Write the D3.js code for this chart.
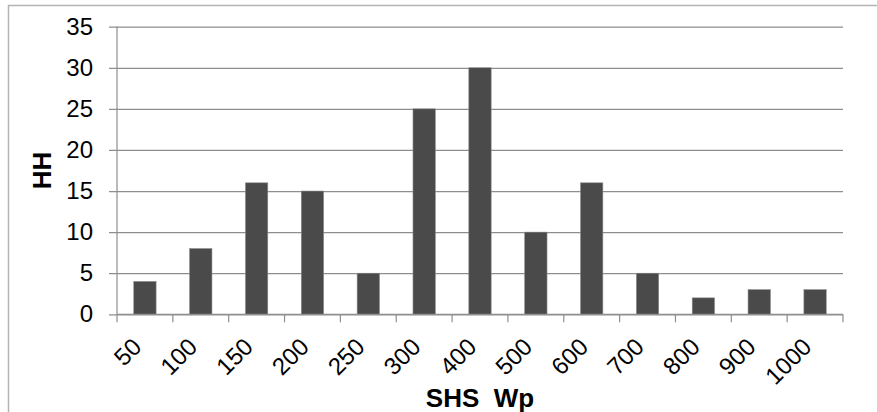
<!DOCTYPE html>
<html>
<head>
<meta charset="utf-8">
<script src="https://cdn.jsdelivr.net/npm/d3@7"></script>
<style>
  body { margin: 0; background: #fff; }
  svg { display: block; font-family: Arial, "Liberation Sans", sans-serif; }
</style>
</head>
<body>
<div id="container"></div>
<script>
// SHS size classes (Wp) and number of households
let categories = ["50", "100", "150", "200", "250", "300", "400", "500", "600", "700", "800", "900", "1000"];
let households = [4, 8, 16, 15, 5, 25, 30, 10, 16, 5, 2, 3, 3];
let yTicks = [0, 5, 10, 15, 20, 25, 30, 35];

let width = 877, height = 412;
let margin = { top: 26.7, right: 34, bottom: 97.7, left: 117 };

let svg = d3.select("#container").append("svg")
  .attr("width", width)
  .attr("height", height);

// outer chart frame (only left and top edges show in the crop)
svg.append("path")
  .attr("d", `M8.5,${height} V5.5 H${width}`)
  .attr("fill", "none")
  .attr("stroke", "#b4b4b4")
  .attr("stroke-width", 1.5);

let x = d3.scaleBand()
  .domain(categories)
  .range([margin.left, width - margin.right])
  .paddingInner(0.6)
  .paddingOuter(0.3);

let y = d3.scaleLinear()
  .domain([0, 35])
  .range([height - margin.bottom, margin.top]);

let g = svg.append("g");

// gridlines + y axis
let yAxis = d3.axisLeft(y)
  .tickValues(yTicks)
  .tickSize(-(width - margin.right - margin.left + 8))
  .tickPadding(16)
  .tickFormat(d3.format("d"));

g.append("g")
  .attr("transform", `translate(${margin.left - 8},0)`)
  .call(yAxis)
  .call(s => s.select(".domain").remove())
  .call(s => s.selectAll(".tick line").attr("stroke", "#8e8e8e").attr("stroke-width", 1.2))
  .call(s => s.selectAll(".tick text")
    .attr("font-size", 24)
    .attr("fill", "#000")
    .attr("font-family", "Arial, 'Liberation Sans', sans-serif"));

// vertical axis line
g.append("line")
  .attr("x1", margin.left).attr("x2", margin.left)
  .attr("y1", y(35)).attr("y2", y(0))
  .attr("stroke", "#8e8e8e").attr("stroke-width", 1.2);

// bars
g.selectAll(".bar")
  .data(households)
  .join("rect")
  .attr("class", "bar")
  .attr("x", (d, i) => x(categories[i]))
  .attr("y", d => y(d))
  .attr("width", x.bandwidth())
  .attr("height", d => y(0) - y(d))
  .attr("fill", "#4a4a4a")
  .attr("stroke", "#8a8a8a")
  .attr("stroke-width", 0.6);

// x axis line + ticks at category boundaries
let bounds = categories.map((c, i) => margin.left + i * (width - margin.right - margin.left) / categories.length);
bounds.push(width - margin.right);

g.append("line")
  .attr("x1", margin.left).attr("x2", width - margin.right)
  .attr("y1", y(0)).attr("y2", y(0))
  .attr("stroke", "#8e8e8e").attr("stroke-width", 1.2);

g.selectAll(".xtick")
  .data(bounds)
  .join("line")
  .attr("class", "xtick")
  .attr("x1", d => d).attr("x2", d => d)
  .attr("y1", y(0)).attr("y2", y(0) + 8)
  .attr("stroke", "#8e8e8e").attr("stroke-width", 1.2);

// rotated category labels
g.selectAll(".xlabel")
  .data(categories)
  .join("text")
  .attr("class", "xlabel")
  .attr("transform", d => `translate(${x(d) + x.bandwidth() / 2 - 8},${y(0) + 28}) rotate(-45)`)
  .attr("text-anchor", "end")
  .attr("dy", "0.35em")
  .attr("font-size", 24)
  .attr("fill", "#000")
  .text(d => d);

// axis titles
svg.append("text")
  .attr("x", 480)
  .attr("y", 406.5)
  .attr("text-anchor", "middle")
  .attr("font-size", 26)
  .attr("font-weight", "bold")
  .style("white-space", "pre")
  .text("SHS  Wp");

svg.append("text")
  .attr("transform", `translate(51,${(y(0) + y(35)) / 2}) rotate(-90)`)
  .attr("text-anchor", "middle")
  .attr("font-size", 26)
  .attr("font-weight", "bold")
  .text("HH");
</script>
</body>
</html>
